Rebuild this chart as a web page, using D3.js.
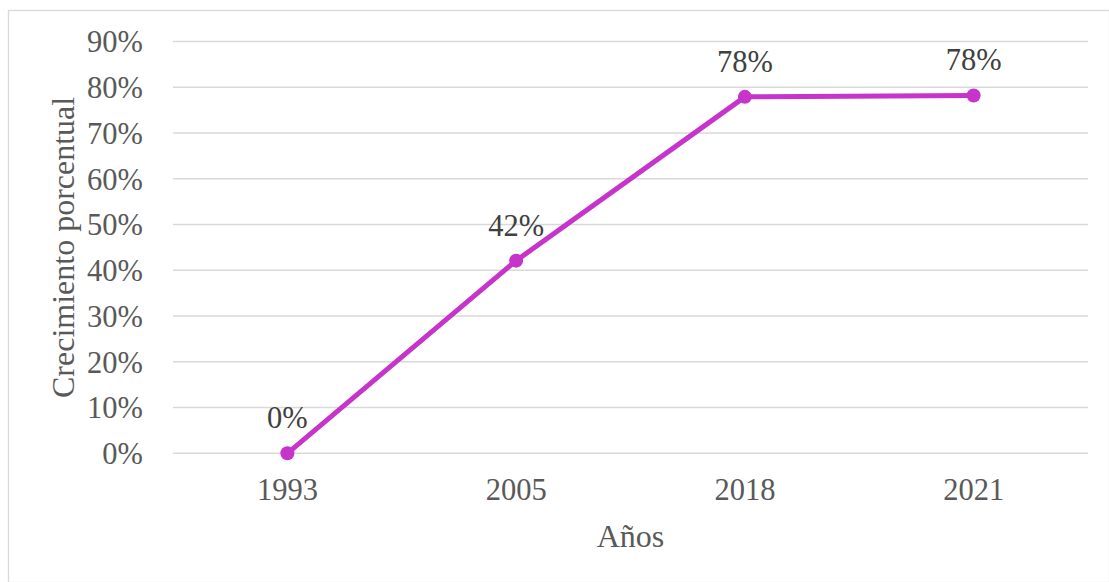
<!DOCTYPE html>
<html>
<head>
<meta charset="utf-8">
<script src="https://cdn.jsdelivr.net/npm/d3@7"></script>
<style>
  html, body { margin: 0; padding: 0; background: #fff; }
  svg { display: block; }
  text { font-family: "Liberation Serif", "Times New Roman", serif; fill: #595959; }
</style>
</head>
<body>
<svg id="chart" width="1109" height="582"></svg>
<script>
// Growth by year (percent)
const years = ["1993", "2005", "2018", "2021"];
const growth = [0, 42.1, 77.9, 78.2];
const yTicks = [0, 10, 20, 30, 40, 50, 60, 70, 80, 90];

const W = 1109, H = 582;
const margin = { left: 173, right: 21, top: 41.5, bottom: 128.7 };
const svg = d3.select("#chart");
const serif = "'Liberation Serif', 'Times New Roman', serif";

// Outer chart frame
svg.append("rect")
  .attr("x", 8.5).attr("y", 10.5)
  .attr("width", W - 8).attr("height", H - 10)
  .attr("fill", "#fff").attr("stroke", "#d9d9d9").attr("stroke-width", 1.3);

const x = d3.scaleBand().domain(years)
  .range([margin.left, W - margin.right]);
const y = d3.scaleLinear().domain([0, 90])
  .range([H - margin.bottom, margin.top]);

// Horizontal gridlines
svg.append("g").selectAll("line").data(yTicks).join("line")
  .attr("x1", margin.left).attr("x2", W - margin.right)
  .attr("y1", d => y(d)).attr("y2", d => y(d))
  .attr("stroke", "#d9d9d9").attr("stroke-width", 1.5);

// Y axis labels
const yAxis = d3.axisLeft(y).tickValues(yTicks).tickFormat(d => d + "%").tickSize(0).tickPadding(0);
svg.append("g").attr("transform", `translate(${margin.left - 30},0)`).call(yAxis)
  .call(g => g.select(".domain").remove())
  .selectAll("text")
  .attr("font-size", 30.5).attr("dy", "0.34em")
  .style("font-family", serif).attr("fill", "#595959");

// X axis labels
const xAxis = d3.axisBottom(x).tickSize(0).tickPadding(0);
svg.append("g").attr("transform", `translate(0,${y(0) + 47})`).call(xAxis)
  .call(g => g.select(".domain").remove())
  .selectAll("text")
  .attr("font-size", 30.5).attr("dy", 0)
  .style("font-family", serif).attr("fill", "#595959");

// Axis titles
svg.append("text")
  .attr("transform", `translate(74,${(margin.top + y(0)) / 2}) rotate(-90)`)
  .attr("text-anchor", "middle").attr("font-size", 32)
  .text("Crecimiento porcentual");
svg.append("text")
  .attr("x", (margin.left + W - margin.right) / 2).attr("y", 547)
  .attr("text-anchor", "middle").attr("font-size", 32)
  .text("Años");

const pts = years.map((yr, i) => ({ yr, v: growth[i] }));
const cx = d => x(d.yr) + x.bandwidth() / 2;

// Series line
svg.append("path").datum(pts)
  .attr("fill", "none").attr("stroke", "#C634C9").attr("stroke-width", 5)
  .attr("stroke-linejoin", "round")
  .attr("d", d3.line().x(cx).y(d => y(d.v)));

// Markers
svg.append("g").selectAll("circle").data(pts).join("circle")
  .attr("cx", cx).attr("cy", d => y(d.v)).attr("r", 7)
  .attr("fill", "#C634C9");

// Data labels
svg.append("g").selectAll("text").data(pts).join("text")
  .attr("x", cx).attr("y", d => y(d.v) - 25)
  .attr("text-anchor", "middle").attr("font-size", 30.5)
  .style("fill", "#404040")
  .text(d => Math.round(d.v) + "%");
</script>
</body>
</html>
